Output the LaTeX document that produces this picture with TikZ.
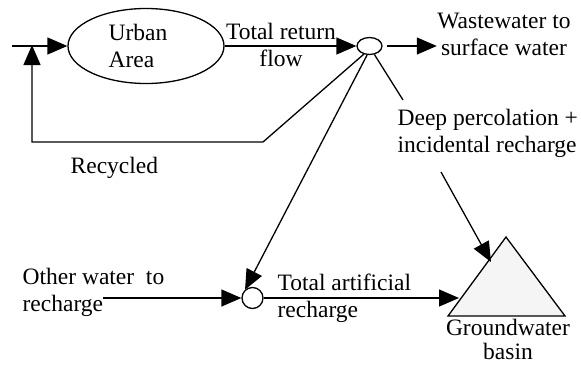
\documentclass[tikz,border=0pt]{standalone}
\usepackage{fontspec}
\setmainfont{Liberation Serif}
\usetikzlibrary{shapes.geometric,arrows.meta,calc}
\begin{document}
\begin{tikzpicture}[x=1pt,y=-1pt,
  line width=1.3pt,
  arr/.style={-{Triangle[length=20pt,width=17pt]}},
  lbl/.style={inner sep=0pt,font=\fontsize{23.5}{27}\selectfont},
  junc/.style={draw,ellipse,inner sep=0pt,fill=white}]
\useasboundingbox (0,0) rectangle (581,365);
% nodes
\node[draw,ellipse,minimum width=156pt,minimum height=75pt] (urban) at (146,46) {};
\node[lbl,anchor=base west,align=left] (urbantxt) at (108,67) {Urban\\Area};
\node[junc,minimum width=25pt,minimum height=17pt] (j1) at (369.5,46) {};
\node[junc,circle,minimum size=21pt] (j2) at (252.5,298) {};
\node[lbl,anchor=base,align=center] (flow) at (281,66) {Total return\\flow};
\node[lbl,anchor=base,align=center] (ww) at (504,55) {Wastewater to\\surface water};
\node[lbl,anchor=base west,align=left] (deep) at (397,152) {Deep percolation +\\incidental recharge};
\node[lbl,anchor=base west] (recycled) at (70,173) {Recycled};
\node[lbl,anchor=base west,align=left] (other) at (22,311) {Other water\ \ to\\recharge};
\node[lbl,anchor=base west,align=left] (tar) at (277,317) {Total artificial\\recharge};
\node[lbl,anchor=base,align=center,font=\fontsize{23.5}{24}\selectfont] (gw) at (508,359) {Groundwater\\basin};
% basin triangle
\coordinate (ta) at (506,237);
\coordinate (tl) at (448,316);
\coordinate (tr) at (565,316);
\filldraw[fill=gray!8,line width=1.3pt] (ta) -- (tl) -- (tr) -- cycle;
% helper coordinates
\coordinate (in) at (12,46);
\coordinate (inj) at (32,46);
\coordinate (rc1) at (263,142);
\coordinate (rc2) at (32,142);
\coordinate (ostart) at (103,298);
\coordinate (gwin) at (459,298);
\coordinate (dpstart) at (441,172);
\coordinate (dpend) at (491,262);
\coordinate (dptop) at (403,100);
% connectors
\draw[arr] (in) -- (urban.west);
\draw[arr] (urban.east) -- (j1.west);
\draw[arr,shorten <=4pt] (j1.east) -- (ww.west |- j1.east);
\draw[arr] (j1.235) -- (rc1) -- (rc2) -- ([yshift=1pt]inj);
\draw[arr] (j1.255) -- (j2.132);
\draw (j1.300) -- (dptop);
\draw[arr] (ostart) -- (j2.west);
\draw[arr] (j2.east) -- (gwin);
\draw[arr] (dpstart) -- (dpend);
\end{tikzpicture}
\end{document}
